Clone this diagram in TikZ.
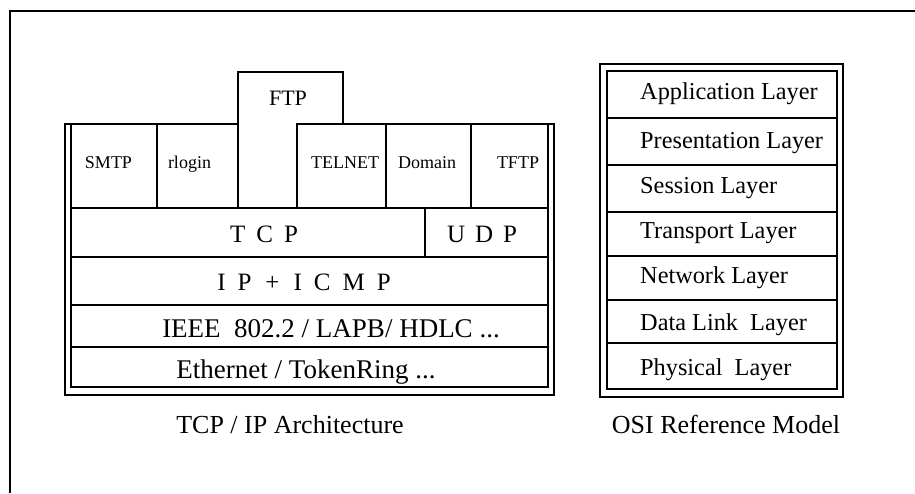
\documentclass[tikz,border=0pt]{standalone}
\usepackage{fontspec}
\setmainfont{Liberation Serif}
\begin{document}
\begin{tikzpicture}[x=1pt,y=-1pt,
  cell/.style={draw, line width=1.9pt, inner sep=0pt, outer sep=0pt, anchor=north west},
  frameline/.style={line width=1.3pt},
  border/.style={line width=1.9pt},
  lbl/.style={inner sep=0pt, anchor=base},
  osilbl/.style={inner sep=0pt, anchor=base west, font=\fontsize{24.3}{29}\selectfont},
  appfont/.style={font=\fontsize{18}{22}\selectfont},
  ftpfont/.style={font=\fontsize{22}{26}\selectfont},
  wide/.style={font=\fontsize{25}{30}\selectfont},
  linkfont/.style={font=\fontsize{27}{32}\selectfont},
  capfont/.style={font=\fontsize{26}{31}\selectfont}]
\useasboundingbox (0,0) rectangle (915,493);

% page frame (top and left edges)
\draw[border] (915,11) -- (10,11) -- (10,493);

% ---------------- TCP/IP stack ----------------
% outer line of the double border
\draw[frameline] (238,124) -- (65,124) -- (65,395) -- (554,395) -- (554,124) -- (343,124);

% application row
\node[cell, minimum width=86pt, minimum height=84pt] (smtp)   at (71,124)  {};
\node[cell, minimum width=81pt, minimum height=84pt] (rlogin) at (157,124) {};
\node[cell, minimum width=89pt, minimum height=84pt] (telnet) at (297,124) {};
\node[cell, minimum width=85pt, minimum height=84pt] (domain) at (386,124) {};
\node[cell, minimum width=77pt, minimum height=84pt] (tftp)   at (471,124) {};
% FTP rises above the row
\draw[line width=1.9pt] (238,208) -- (238,72) -- (343,72) -- (343,124);

% transport, network and link rows
\node[cell, minimum width=354pt, minimum height=49pt] (tcp)  at (71,208)  {};
\node[cell, minimum width=123pt, minimum height=49pt] (udp)  at (425,208) {};
\node[cell, minimum width=477pt, minimum height=48pt] (ip)   at (71,257)  {};
\node[cell, minimum width=477pt, minimum height=42pt] (llc)  at (71,305)  {};
\node[cell, minimum width=477pt, minimum height=40pt] (mac)  at (71,347)  {};

% labels
\node[lbl, appfont] (tsmtp)   at (108.5,168) {SMTP};
\node[lbl, appfont] (trlogin) at (189.5,168) {rlogin};
\node[lbl, ftpfont] (tftpx)   at (288,105)   {FTP};
\node[lbl, appfont] (ttelnet) at (345,168)   {TELNET};
\node[lbl, appfont] (tdomain) at (427,168)   {Domain};
\node[lbl, appfont] (ttftp)   at (518,168)   {TFTP};
\node[lbl, wide] (ttcp) at (264,242) {T\hspace{11pt}C\hspace{11pt}P};
\node[lbl, wide] (tudp) at (482,242) {U\hspace{10pt}D\hspace{10pt}P};
\node[lbl, wide] (tip)  at (304,290) {I\hspace{12pt}P\hspace{14pt}+\hspace{14pt}I\hspace{12pt}C\hspace{12pt}M\hspace{12pt}P};
\node[lbl, linkfont] (tllc) at (331,337) {IEEE\ \ 802.2 / LAPB/ HDLC ...};
\node[lbl, linkfont] (tmac) at (306,378) {Ethernet / TokenRing ...};
\node[lbl, capfont] (archcap) at (290,433) {TCP / IP Architecture};

% ---------------- OSI model ----------------
\draw[frameline] (600,64) rectangle (843,397);
\node[cell, minimum width=230pt, minimum height=47pt] (app)  at (607,71)  {};
\node[cell, minimum width=230pt, minimum height=47pt] (pres) at (607,118) {};
\node[cell, minimum width=230pt, minimum height=47pt] (sess) at (607,165) {};
\node[cell, minimum width=230pt, minimum height=44pt] (trans) at (607,212) {};
\node[cell, minimum width=230pt, minimum height=44pt] (net)  at (607,256) {};
\node[cell, minimum width=230pt, minimum height=43pt] (dlink) at (607,300) {};
\node[cell, minimum width=230pt, minimum height=46pt] (phys) at (607,343) {};

\node[osilbl] (tapp)   at (640,99)  {Application Layer};
\node[osilbl] (tpres)  at (640,148) {Presentation Layer};
\node[osilbl] (tsess)  at (640,193) {Session Layer};
\node[osilbl] (ttrans) at (640,238) {Transport Layer};
\node[osilbl] (tnet)   at (640,283) {Network Layer};
\node[osilbl] (tdlink) at (640,330) {Data Link\ \ Layer};
\node[osilbl] (tphys)  at (640,375) {Physical\ \ Layer};
\node[lbl, capfont] (osicap) at (726,433) {OSI Reference Model};
\end{tikzpicture}
\end{document}
